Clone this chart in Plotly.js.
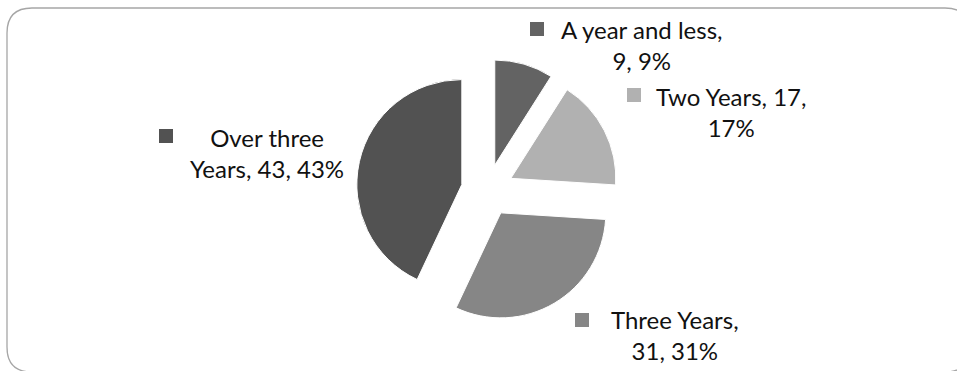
<!DOCTYPE html>
<html>
<head>
<meta charset="utf-8">
<script src="https://cdn.plot.ly/plotly-3.0.1.min.js"></script>
<style>
  html, body { margin: 0; padding: 0; background: #fff; }
  #chart { width: 957px; height: 371px; }
</style>
</head>
<body>
<div id="chart"></div>
<script>
// ---- data ----
const categories = ['A year and less', 'Two Years', 'Three Years', 'Over three Years'];
const counts = [9, 17, 31, 43];
const percents = [9, 17, 31, 43];
const sliceColors = ['#636363', '#b1b1b1', '#868686', '#525252'];

// ---- layout helpers (pixel -> paper) ----
const W = 957, H = 371;
const px = x => x / W;
const py = y => 1 - y / H;

// label placement (pixel centres), wrap points, legend key boxes
const breakAfter = [4, 3, 2, 2];
const labelPos = [[641, 45], [731, 112], [675, 335], [267, 153]];
const keyBox = [[530, 22], [627, 88], [575, 313], [159, 129]];
const KEY = 14;

function labelText(i) {
  const words = `${categories[i]}, ${counts[i]}, ${percents[i]}%`.split(' ');
  return words.slice(0, breakAfter[i]).join(' ') + '<br>' + words.slice(breakAfter[i]).join(' ');
}

const trace = {
  type: 'pie',
  labels: categories,
  values: counts,
  sort: false,
  direction: 'clockwise',
  rotation: 0,
  pull: categories.map(() => 0.25),
  marker: { colors: sliceColors, line: { color: '#ffffff', width: 1 } },
  textinfo: 'none',
  hoverinfo: 'none',
  showlegend: false,
  domain: { x: [0.3722, 0.6465], y: [0.1334, 0.8409] }
};

const annotations = categories.map((c, i) => ({
  xref: 'paper', yref: 'paper',
  x: px(labelPos[i][0]), y: py(labelPos[i][1]),
  xanchor: 'center', yanchor: 'middle',
  text: labelText(i),
  showarrow: false,
  align: 'center',
  font: { family: 'Lato, "Open Sans", sans-serif', size: 24, color: '#111111' }
}));

const shapes = categories.map((c, i) => ({
  type: 'rect', xref: 'paper', yref: 'paper',
  x0: px(keyBox[i][0]), x1: px(keyBox[i][0] + KEY),
  y0: py(keyBox[i][1]), y1: py(keyBox[i][1] + KEY),
  fillcolor: sliceColors[i], line: { width: 0 }
}));

// rounded chart border
const bx0 = 7, by0 = 8, bx1 = 970, by1 = 372, r = 25;
shapes.push({
  type: 'path', xref: 'paper', yref: 'paper',
  path: `M ${px(bx0 + r)},${py(by0)} L ${px(bx1 - r)},${py(by0)} ` +
        `Q ${px(bx1)},${py(by0)} ${px(bx1)},${py(by0 + r)} ` +
        `L ${px(bx1)},${py(by1 - r)} Q ${px(bx1)},${py(by1)} ${px(bx1 - r)},${py(by1)} ` +
        `L ${px(bx0 + r)},${py(by1)} Q ${px(bx0)},${py(by1)} ${px(bx0)},${py(by1 - r)} ` +
        `L ${px(bx0)},${py(by0 + r)} Q ${px(bx0)},${py(by0)} ${px(bx0 + r)},${py(by0)} Z`,
  line: { color: '#a6a6a6', width: 1.3 },
  fillcolor: 'rgba(0,0,0,0)'
});

const layout = {
  width: W, height: H,
  margin: { l: 0, r: 0, t: 0, b: 0 },
  paper_bgcolor: '#ffffff',
  plot_bgcolor: '#ffffff',
  showlegend: false,
  annotations: annotations,
  shapes: shapes
};

Plotly.newPlot('chart', [trace], layout, { staticPlot: true, displayModeBar: false });
</script>
</body>
</html>
